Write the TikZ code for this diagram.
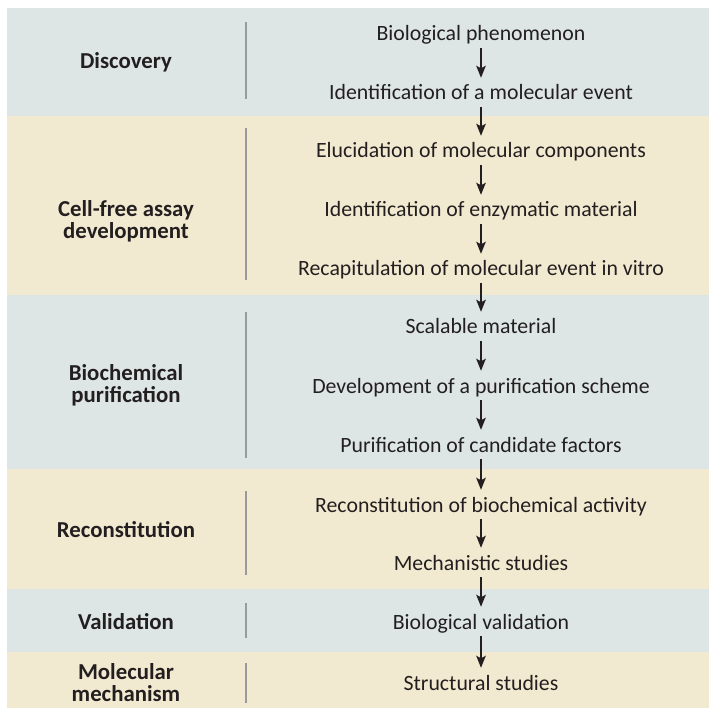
\documentclass[tikz,border=0pt]{standalone}
\usepackage{fontspec}
\setmainfont{Carlito}
\usetikzlibrary{arrows.meta}
\definecolor{bandblue}{RGB}{221,230,228}
\definecolor{bandcream}{RGB}{242,234,208}
\definecolor{rulegray}{RGB}{152,155,155}
\definecolor{inkdark}{RGB}{35,31,32}
\begin{document}
\begin{tikzpicture}[x=1pt,y=-1pt,
  stepnode/.style={inner xsep=0pt, inner ysep=2pt, text height=13pt, text depth=4pt, text=inkdark, font=\fontsize{21.8}{24}\selectfont},
  phase/.style={inner sep=0pt, align=center, text=inkdark, font=\fontsize{22.8}{22}\selectfont\bfseries},
  flow/.style={-{Stealth[length=12pt,width=9.5pt,inset=2.5pt]}, line width=1.8pt, draw=inkdark, shorten <=1pt, shorten >=7pt},
  sep/.style={rulegray, line width=2.5pt}]
\useasboundingbox (0,0) rectangle (709,708);
% bands
\fill[bandblue] (7,8) rectangle (709,116);
\fill[bandcream] (7,116) rectangle (709,295);
\fill[bandblue] (7,295) rectangle (709,469);
\fill[bandcream] (7,469) rectangle (709,589);
\fill[bandblue] (7,589) rectangle (709,652);
\fill[bandcream] (7,652) rectangle (709,708);
% separators
\draw[sep] (246,22) -- (246,99);
\draw[sep] (246,128) -- (246,280);
\draw[sep] (246,312) -- (246,458);
\draw[sep] (246,491) -- (246,575);
\draw[sep] (246,603) -- (246,638);
\draw[sep] (246,663) -- (246,703);
% phases
\node[phase, anchor=base] (lab0) at (126,69) {Discovery};
\node[phase] (lab1) at (126,221.5) {Cell-free assay\\development};
\node[phase] (lab2) at (126,385) {Biochemical\\purification};
\node[phase, anchor=base] (lab3) at (126,537) {Reconstitution};
\node[phase, anchor=base] (lab4) at (126,629) {Validation};
\node[phase] (lab5) at (126,683) {Molecular\\mechanism};
% steps
\node[stepnode] (st0) at (481,36.5) {Biological phenomenon};
\node[stepnode] (st1) at (481,95.5) {Identification of a molecular event};
\draw[flow] (st0) -- (st1);
\node[stepnode] (st2) at (481,153.5) {Elucidation of molecular components};
\draw[flow] (st1) -- (st2);
\node[stepnode] (st3) at (481,212.5) {Identification of enzymatic material};
\draw[flow] (st2) -- (st3);
\node[stepnode] (st4) at (481,271.5) {Recapitulation of molecular event in vitro};
\draw[flow] (st3) -- (st4);
\node[stepnode] (st5) at (481,329.5) {Scalable material};
\draw[flow] (st4) -- (st5);
\node[stepnode] (st6) at (481,388.5) {Development of a purification scheme};
\draw[flow] (st5) -- (st6);
\node[stepnode] (st7) at (481,447.5) {Purification of candidate factors};
\draw[flow] (st6) -- (st7);
\node[stepnode] (st8) at (481,507.5) {Reconstitution of biochemical activity};
\draw[flow] (st7) -- (st8);
\node[stepnode] (st9) at (481,565.5) {Mechanistic studies};
\draw[flow] (st8) -- (st9);
\node[stepnode] (st10) at (481,624.5) {Biological validation};
\draw[flow] (st9) -- (st10);
\node[stepnode] (st11) at (481,685.5) {Structural studies};
\draw[flow] (st10) -- (st11);
\end{tikzpicture}
\end{document}
